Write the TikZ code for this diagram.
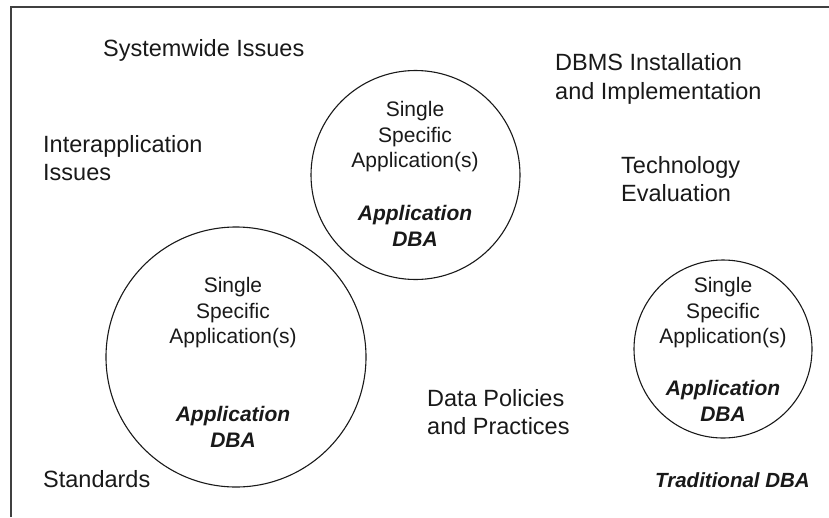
\documentclass[tikz,border=0pt]{standalone}
\usepackage{fontspec}
\setmainfont{Liberation Sans}
\begin{document}
\begin{tikzpicture}[x=1pt,y=-1pt,
  lbl/.style={inner sep=0pt, align=left, anchor=west, font=\fontsize{23.5}{28.5}\selectfont, text=black!90},
  ctext/.style={inner sep=0pt, align=center, anchor=center, font=\fontsize{21}{25.5}\selectfont, text=black!90},
  cbold/.style={inner sep=0pt, align=center, anchor=center, font=\fontsize{21}{25.5}\selectfont\bfseries\itshape, text=black!90},
  ring/.style={draw=black!90, line width=1.1pt, circle, inner sep=0pt}]
\useasboundingbox (0,0) rectangle (829,517);
% frame
\coordinate (fbl) at (11,517);
\coordinate (ftl) at (11,7);
\coordinate (ftr) at (829,7);
\draw[line width=1.6pt, black!75] (fbl) -- (ftl) -- (ftr);
% circles
\node[ring, minimum size=209pt] (c1) at (415.5,175) {};
\node[ring, minimum size=260pt] (c2) at (236,357) {};
\node[ring, minimum size=178pt] (c3) at (723,349) {};
% circle texts
\node[ctext] (c1a) at (415,137) {Single\\Specific\\Application(s)};
\node[cbold] (c1b) at (415,226) {Application\\DBA};
\node[ctext] (c2a) at (233,313) {Single\\Specific\\Application(s)};
\node[cbold] (c2b) at (233,427) {Application\\DBA};
\node[ctext] (c3a) at (723,313) {Single\\Specific\\Application(s)};
\node[cbold] (c3b) at (723,401) {Application\\DBA};
% labels
\node[lbl] (sys) at (103,50) {Systemwide Issues};
\node[lbl] (dbms) at (555,79) {DBMS Installation\\and Implementation};
\node[lbl] (inter) at (43,158) {Interapplication\\Issues};
\node[lbl] (tech) at (621,179) {Technology\\Evaluation};
\node[lbl] (data) at (427,412) {Data Policies\\and Practices};
\node[lbl] (std) at (43,479) {Standards};
\node[lbl, font=\fontsize{20.5}{24}\selectfont\bfseries\itshape] (trad) at (655,480) {Traditional DBA};
\end{tikzpicture}
\end{document}
